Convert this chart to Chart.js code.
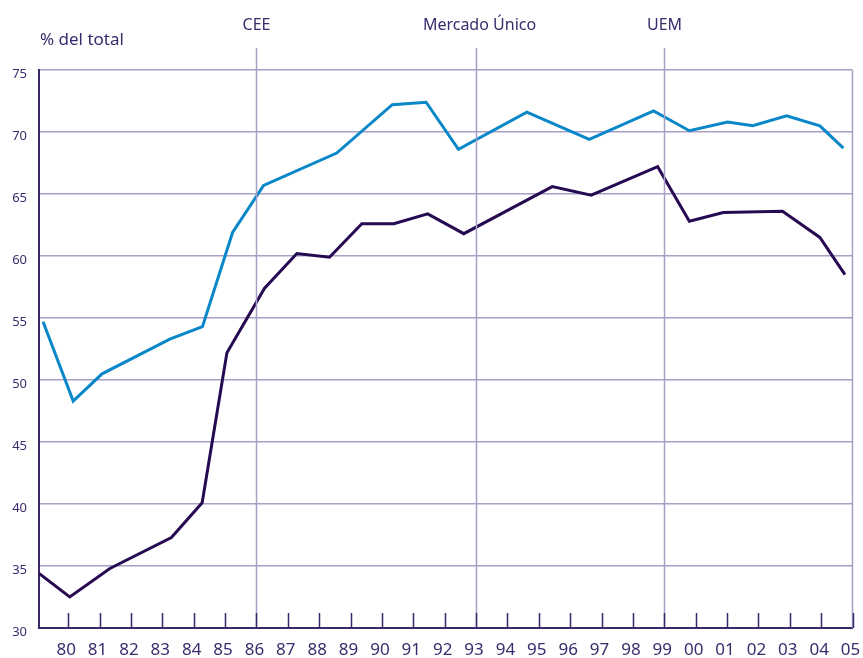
<!DOCTYPE html>
<html lang="es">
<head>
<meta charset="utf-8">
<script src="https://cdn.jsdelivr.net/npm/chart.js@4.4.1/dist/chart.umd.min.js"></script>
<style>
    html, body { margin: 0; padding: 0; background: #ffffff; }
    #contenedor { width: 863px; height: 658px; position: relative; }
</style>
</head>
<body>
<div id="contenedor"><canvas id="grafico"></canvas></div>
<script>
// años (posición aproximada de cada dato) y porcentajes
const aniosClaro = [1979.20, 1980.16, 1981.08, 1983.24, 1984.28, 1985.24, 1986.23, 1988.56, 1990.33, 1991.41,
    1992.44, 1994.62, 1996.61, 1998.66, 1999.80, 2001.02, 2001.82, 2002.90, 2003.96, 2004.71];
const valoresClaro = [54.7, 48.3, 50.5, 53.3, 54.3, 61.9, 65.7, 68.3, 72.2, 72.4,
    68.6, 71.6, 69.4, 71.7, 70.1, 70.8, 70.5, 71.3, 70.5, 68.7];

const aniosOscuro = [1979.07, 1980.05, 1981.33, 1983.29, 1984.27, 1985.06, 1986.26, 1987.29, 1988.33, 1989.36,
    1990.38, 1991.46, 1992.61, 1995.43, 1996.67, 1998.79, 1999.80, 2000.88, 2002.77, 2003.96, 2004.76];
const valoresOscuro = [34.4, 32.5, 34.8, 37.3, 40.1, 52.2, 57.4, 60.2, 59.9, 62.6,
    62.6, 63.4, 61.8, 65.6, 64.9, 67.2, 62.8, 63.5, 63.6, 61.5, 58.5];

const aniosEje = [1980, 1981, 1982, 1983, 1984, 1985, 1986, 1987, 1988, 1989, 1990, 1991, 1992,
    1993, 1994, 1995, 1996, 1997, 1998, 1999, 2000, 2001, 2002, 2003, 2004, 2005];
const etiquetasX = ['80', '81', '82', '83', '84', '85', '86', '87', '88', '89', '90', '91', '92',
    '93', '94', '95', '96', '97', '98', '99', '00', '01', '02', '03', '04', '05'];

const eventosAnio = [1986, 1993, 1999];
const eventosTexto = ['CEE', 'Mercado Único', 'UEM'];

const COLOR_TEXTO = '#3b2b6c';
const COLOR_EJE = '#3a2768';
const COLOR_REJILLA = '#a79fc5';
const FUENTE = "'Noto Sans', sans-serif";

const puntos = (xs, ys) => xs.map((x, i) => ({ x, y: ys[i] }));

// líneas de eventos, marcas del eje X y rótulos
const decoraciones = {
    id: 'decoraciones',
    afterDraw(chart) {
        const { ctx, chartArea, scales } = chart;
        const x = scales.x;
        ctx.save();

        // borde derecho
        ctx.strokeStyle = COLOR_REJILLA;
        ctx.lineWidth = 1.5;
        ctx.beginPath();
        ctx.moveTo(chartArea.right, chartArea.top);
        ctx.lineTo(chartArea.right, chartArea.bottom);
        ctx.stroke();

        // líneas verticales de eventos
        ctx.font = `16px ${FUENTE}`;
        ctx.fillStyle = COLOR_TEXTO;
        ctx.textAlign = 'center';
        ctx.textBaseline = 'middle';
        eventosAnio.forEach((anio, i) => {
            const px = Math.round(x.getPixelForValue(anio)) + 0.5;
            ctx.strokeStyle = COLOR_REJILLA;
            ctx.lineWidth = 1.5;
            ctx.beginPath();
            ctx.moveTo(px, chartArea.top - 22);
            ctx.lineTo(px, chartArea.bottom);
            ctx.stroke();
            const desplazamiento = i === 1 ? 3 : 0;
            ctx.fillText(eventosTexto[i], px + desplazamiento, 25);
        });

        // marcas hacia dentro sobre el eje X
        ctx.strokeStyle = COLOR_EJE;
        ctx.lineWidth = 1.5;
        aniosEje.forEach((anio) => {
            const px = Math.round(x.getPixelForValue(anio)) + 0.5;
            ctx.beginPath();
            ctx.moveTo(px, chartArea.bottom - 15);
            ctx.lineTo(px, chartArea.bottom);
            ctx.stroke();
        });

        // unidad
        ctx.textAlign = 'left';
        ctx.font = `17px ${FUENTE}`;
        ctx.fillText('% del total', 40, 40);
        ctx.restore();
    }
};

window.addEventListener('DOMContentLoaded', () => {
    const ctx = document.getElementById('grafico').getContext('2d');

    new Chart(ctx, {
        type: 'line',
        data: {
            datasets: [
                {
                    label: 'Serie clara',
                    data: puntos(aniosClaro, valoresClaro),
                    borderColor: '#0a87c8',
                    borderWidth: 3,
                    pointRadius: 0,
                    tension: 0,
                    fill: false
                },
                {
                    label: 'Serie oscura',
                    data: puntos(aniosOscuro, valoresOscuro),
                    borderColor: '#260a52',
                    borderWidth: 3,
                    pointRadius: 0,
                    tension: 0,
                    fill: false
                }
            ]
        },
        options: {
            responsive: true,
            maintainAspectRatio: false,
            animation: false,
            layout: { padding: { top: 70, right: 10.5, bottom: 0, left: 0 } },
            plugins: {
                legend: { display: false },
                tooltip: { enabled: false },
                title: { display: false }
            },
            scales: {
                x: {
                    type: 'linear',
                    min: 1979.07,
                    max: 2005,
                    afterBuildTicks: (scale) => {
                        scale.ticks = aniosEje.map((v) => ({ value: v }));
                    },
                    afterFit: (scale) => {
                        scale.height = 30;
                        scale.paddingLeft = 0;
                        scale.paddingRight = 0;
                    },
                    grid: { display: false, drawTicks: false },
                    border: { display: true, color: COLOR_EJE, width: 2 },
                    ticks: {
                        autoSkip: false,
                        maxRotation: 0,
                        padding: 12,
                        labelOffset: -2,
                        color: COLOR_TEXTO,
                        font: { family: FUENTE, size: 17 },
                        callback: (valor) => etiquetasX[aniosEje.indexOf(valor)]
                    }
                },
                y: {
                    min: 30,
                    max: 75,
                    afterFit: (scale) => {
                        scale.width = 39;
                        scale.paddingTop = 0;
                        scale.paddingBottom = 0;
                    },
                    grid: { color: COLOR_REJILLA, lineWidth: 1.5, drawTicks: false },
                    border: { display: true, color: COLOR_EJE, width: 2 },
                    ticks: {
                        stepSize: 5,
                        padding: 12,
                        labelOffset: 4,
                        color: COLOR_TEXTO,
                        font: { family: FUENTE, size: 13 }
                    }
                }
            }
        },
        plugins: [decoraciones]
    });
});
</script>
</body>
</html>
